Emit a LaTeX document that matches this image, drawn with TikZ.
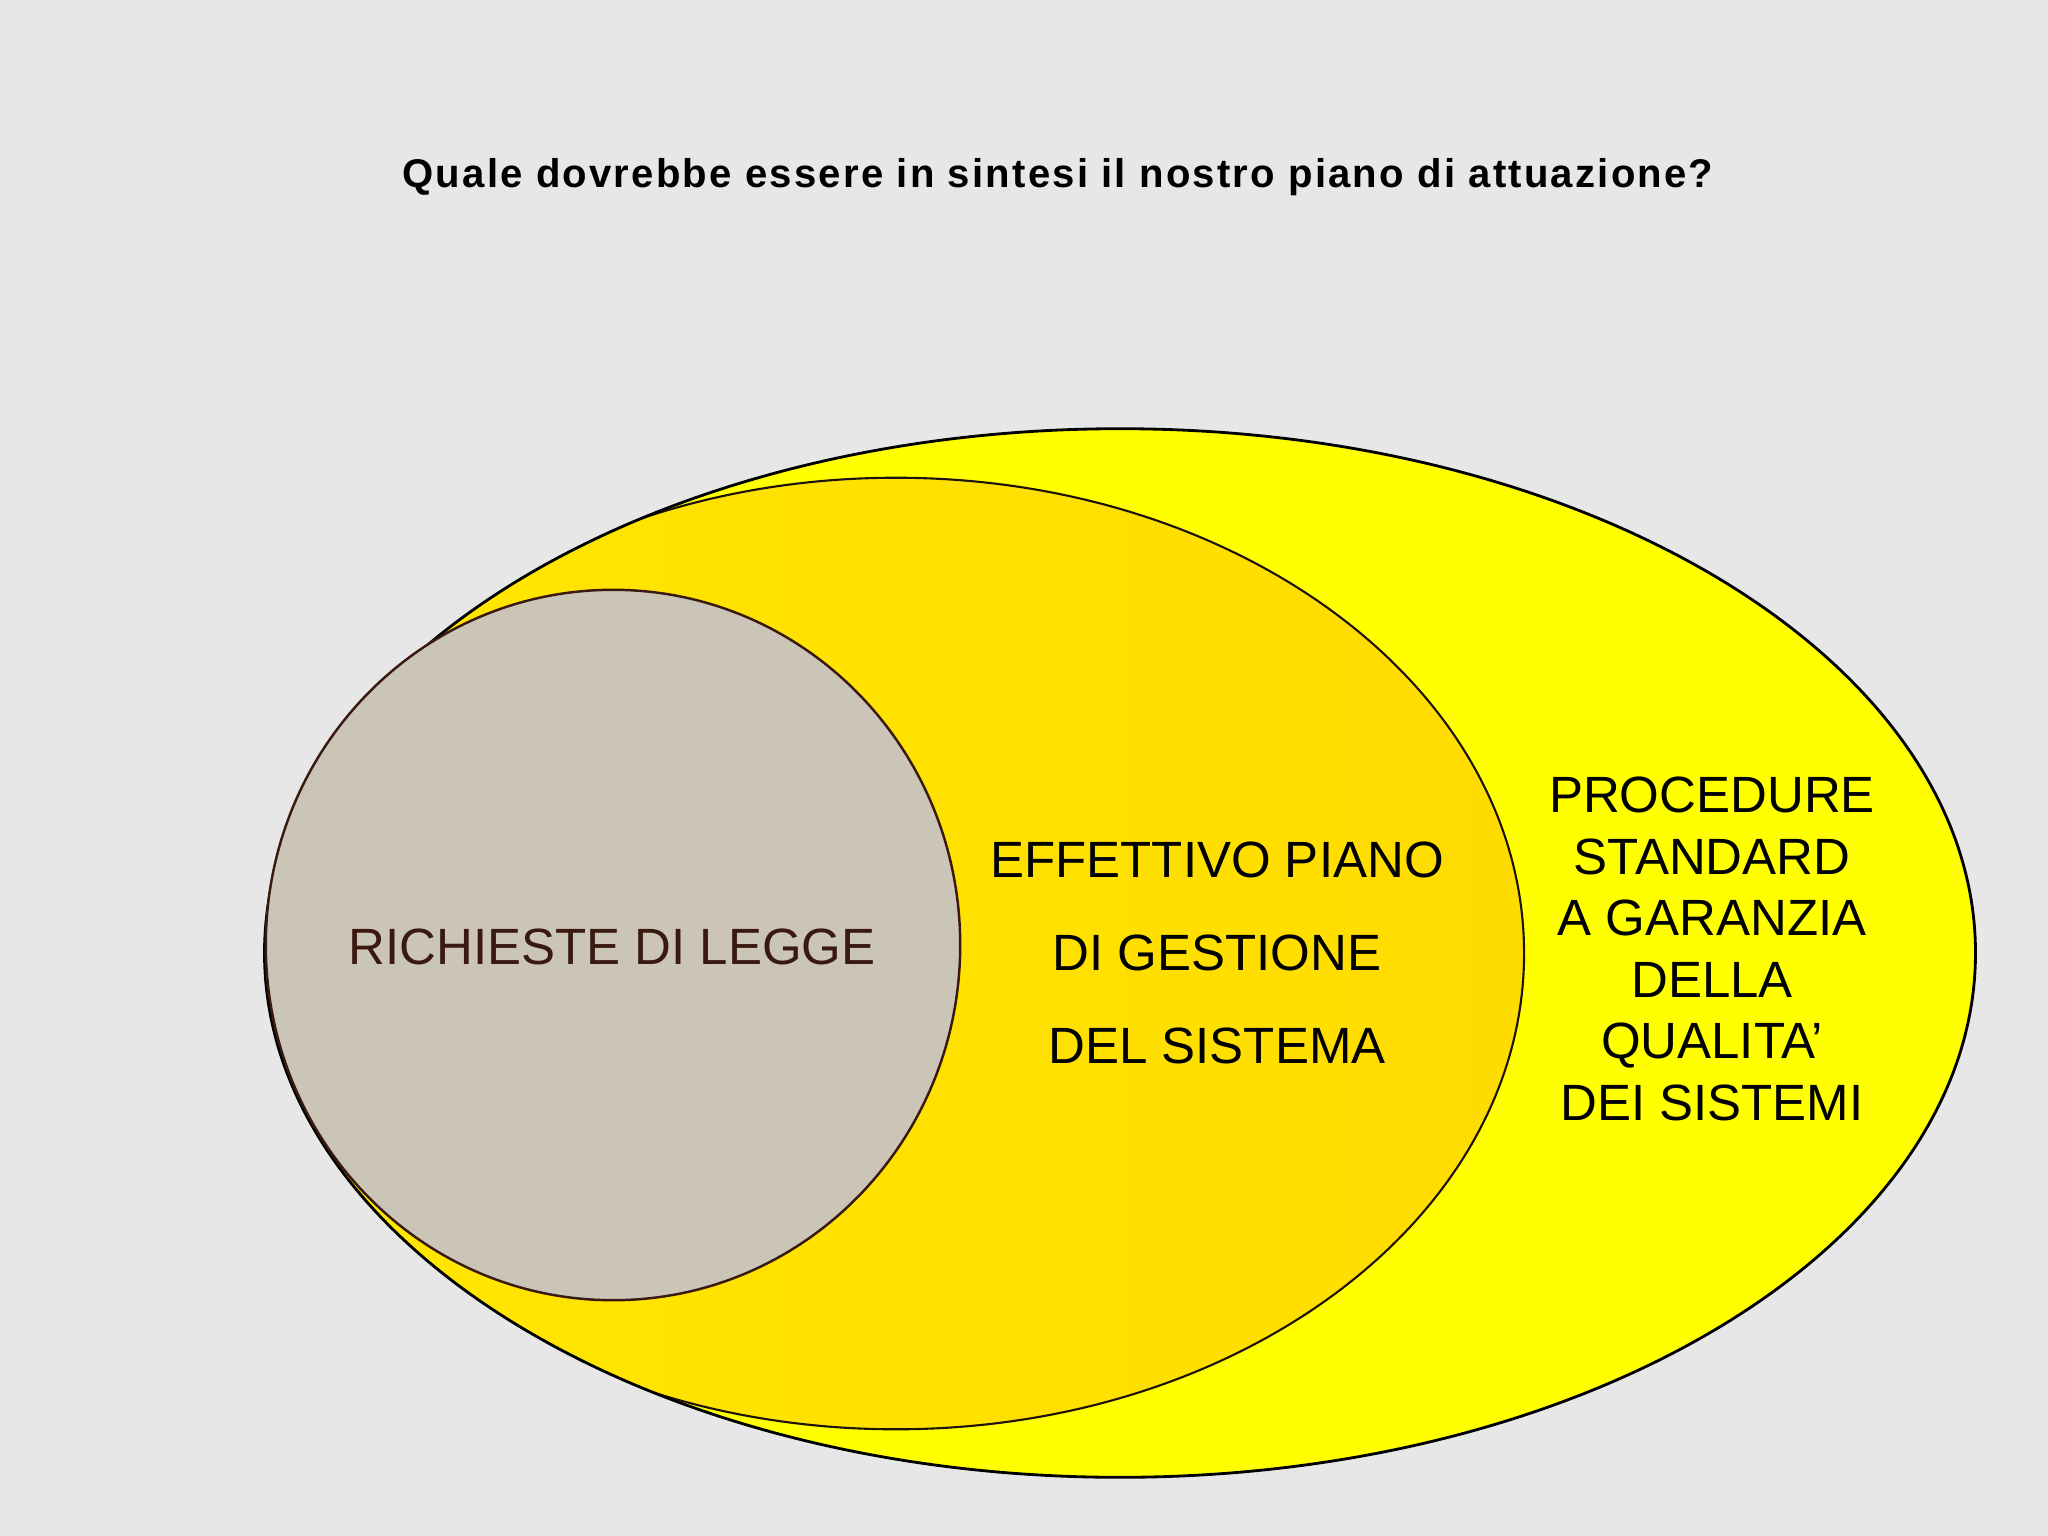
\documentclass[tikz,border=0pt]{standalone}
\usepackage{fontspec}
\setmainfont{Liberation Sans}
\newfontfamily\titlefont[LetterSpace=5.5]{Liberation Sans}
\definecolor{bg}{HTML}{E7E7E7}
\definecolor{outery}{HTML}{FFFF00}
\definecolor{goldl}{HTML}{FFE700}
\definecolor{goldr}{HTML}{FFDC00}
\definecolor{peach}{HTML}{F3D3BE}
\definecolor{greyc}{HTML}{CBC5B7}
\definecolor{darkbrown}{HTML}{3A1A10}
\tikzset{
  outline/.style={draw=black, line width=0.8pt},
  lbl/.style={align=center, inner sep=0pt, text=black},
  bigtxt/.style={font=\fontsize{14.5}{26.5}\selectfont},
}
\begin{document}
\begin{tikzpicture}[x=0.01cm,y=-0.01cm]
\useasboundingbox (0,0) rectangle (2048,1536);
\fill[bg] (0,0) rectangle (2048,1536);
% outer yellow ellipse
\fill[outery] (1120,953) ellipse [x radius=8.55cm, y radius=5.24cm];
\begin{scope}
  \clip (1120,953) ellipse [x radius=8.55cm, y radius=5.24cm];
  % peach ellipse behind the gold one (shows only on the left)
  \filldraw[fill=peach, draw=darkbrown, line width=0.6pt] (878,953) ellipse [x radius=6.14cm, y radius=4.66cm];
  % gold ellipse
  \shade[left color=goldl, right color=goldr] (896,953.5) ellipse [x radius=6.277cm, y radius=4.755cm];
  \draw[draw=black!85!brown, line width=0.6pt] (896,953.5) ellipse [x radius=6.277cm, y radius=4.755cm];
\end{scope}
\draw[outline] (1120,953) ellipse [x radius=8.55cm, y radius=5.24cm];
% grey circle
\filldraw[fill=greyc, draw=darkbrown, line width=0.7pt] (613,945) ellipse [x radius=3.47cm, y radius=3.55cm];

% texts
\node[lbl] (title) at (1058,177) {\titlefont\bfseries\fontsize{11.4}{13}\selectfont Quale dovrebbe essere in sintesi il nostro piano di attuazione?};
\node[lbl, bigtxt, text=darkbrown] (legge) at (612,947) {RICHIESTE DI LEGGE};
\node[lbl, bigtxt] (piano) at (1217,953) {EFFETTIVO PIANO\\DI GESTIONE\\DEL SISTEMA};
\node[lbl, font=\fontsize{14.5}{17.5}\selectfont] (proc) at (1712,949) {PROCEDURE\\STANDARD\\A GARANZIA\\DELLA\\QUALITA’\\DEI SISTEMI};
\end{tikzpicture}
\end{document}
